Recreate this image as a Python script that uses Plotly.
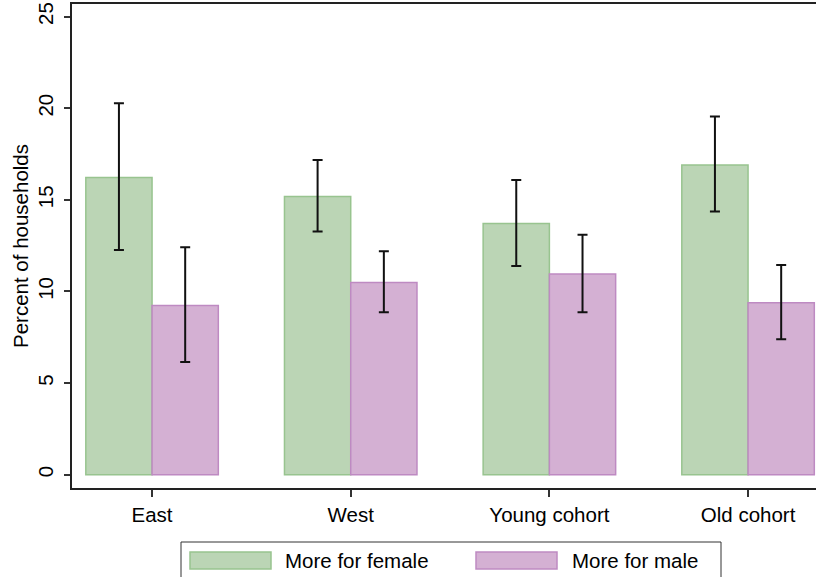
import plotly.graph_objects as go

# Household shares by group, with confidence bounds
categories = ["East", "West", "Young cohort", "Old cohort"]
series_names = ["More for female", "More for male"]

female_pct = [16.22, 15.18, 13.71, 16.91]
female_low = [12.26, 13.27, 11.39, 14.37]
female_high = [20.28, 17.17, 16.08, 19.55]

male_pct = [9.24, 10.49, 10.95, 9.38]
male_low = [6.15, 8.87, 8.86, 7.40]
male_high = [12.42, 12.20, 13.09, 11.44]

y_ticks = [0, 5, 10, 15, 20, 25]

FONT = "Liberation Sans, Arial, Helvetica, sans-serif"
FS = 20.5
fills = ["rgb(187,213,181)", "rgb(212,176,211)"]
edges = ["rgb(152,196,143)", "rgb(190,138,194)"]

fig = go.Figure()
for name, vals, lo, hi, fill, edge in [
    (series_names[0], female_pct, female_low, female_high, fills[0], edges[0]),
    (series_names[1], male_pct, male_low, male_high, fills[1], edges[1]),
]:
    fig.add_trace(go.Bar(
        x=categories,
        y=vals,
        name=name,
        marker=dict(color=fill, line=dict(color=edge, width=1.5)),
        error_y=dict(
            type="data",
            symmetric=False,
            array=[h - v for h, v in zip(hi, vals)],
            arrayminus=[v - l for v, l in zip(vals, lo)],
            color="#111111",
            thickness=2,
            width=5,
        ),
        showlegend=False,
    ))

W, H = 816, 577
ML, MR, MT, MB = 72, 0, 4, 89
pw, ph = W - ML - MR, H - MT - MB


def px(xp):
    return (xp - ML) / pw


def py(yp):
    return (H - MB - yp) / ph


# Legend drawn as a boxed key below the axis
shapes = [
    dict(type="rect", xref="paper", yref="paper",
         x0=px(181), x1=px(721), y0=py(590), y1=py(542),
         line=dict(color="#333333", width=1), fillcolor="white", layer="above"),
]
annotations = []
swatch_x = [(190, 271), (476, 557)]
text_x = [283, 570]
for i, name in enumerate(series_names):
    shapes.append(dict(type="rect", xref="paper", yref="paper",
                       x0=px(swatch_x[i][0]), x1=px(swatch_x[i][1]),
                       y0=py(569), y1=py(552),
                       line=dict(color=edges[i], width=1.5), fillcolor=fills[i],
                       layer="above"))
    annotations.append(dict(xref="paper", yref="paper", x=px(text_x[i]), y=py(560.5),
                            text=name, showarrow=False, xanchor="left", yanchor="middle",
                            font=dict(family=FONT, size=FS, color="black")))

fig.update_layout(
    width=W, height=H,
    margin=dict(l=ML, r=MR, t=MT, b=MB, pad=0),
    paper_bgcolor="white", plot_bgcolor="white",
    barmode="group", bargap=0.333, bargroupgap=0,
    font=dict(family=FONT, size=FS, color="black"),
    shapes=shapes,
    annotations=annotations,
    xaxis=dict(
        type="category",
        range=[-0.403, 3.342],
        showgrid=False, zeroline=False,
        showline=True, linecolor="#222222", linewidth=2, mirror=True,
        ticks="outside", ticklen=7, tickwidth=1.5, tickcolor="#333333",
        tickfont=dict(family=FONT, size=FS, color="black"),
    ),
    yaxis=dict(
        range=[-0.725, 25.69],
        tickvals=y_ticks,
        showgrid=False, zeroline=False,
        showline=True, linecolor="#222222", linewidth=2,
        ticks="outside", ticklen=6, tickwidth=1.5, tickcolor="#333333",
        tickangle=-90,
        ticklabelstandoff=3,
        tickfont=dict(family=FONT, size=FS, color="black"),
        title=dict(text="Percent of households", standoff=0,
                   font=dict(family=FONT, size=FS, color="black")),
    ),
)

fig.write_html("out.html")
